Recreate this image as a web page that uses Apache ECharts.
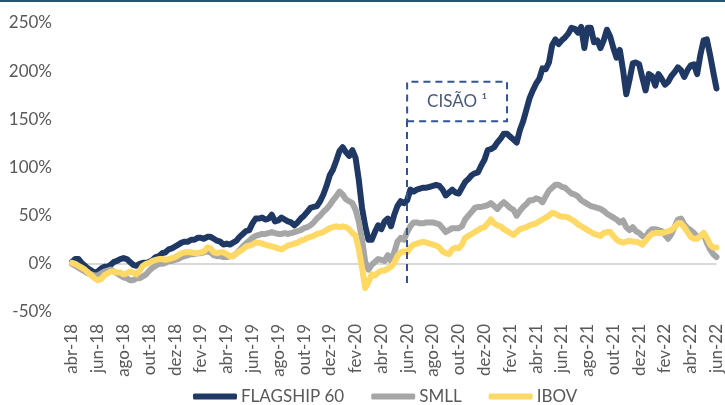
<!DOCTYPE html>
<html>
<head>
<meta charset="utf-8">
<script src="https://cdn.jsdelivr.net/npm/echarts@6/dist/echarts.min.js"></script>
<style>
  html, body { margin: 0; padding: 0; background: #ffffff; }
  #chart { width: 725px; height: 405px; }
</style>
</head>
<body>
<div id="chart"></div>
<script>
// Monthly labels, abr-18 .. jun-22 (each month split into 4 sub-periods)
const months = [
  'abr-18','mai-18','jun-18','jul-18','ago-18','set-18','out-18','nov-18','dez-18',
  'jan-19','fev-19','mar-19','abr-19','mai-19','jun-19','jul-19','ago-19','set-19','out-19','nov-19','dez-19',
  'jan-20','fev-20','mar-20','abr-20','mai-20','jun-20','jul-20','ago-20','set-20','out-20','nov-20','dez-20',
  'jan-21','fev-21','mar-21','abr-21','mai-21','jun-21','jul-21','ago-21','set-21','out-21','nov-21','dez-21',
  'jan-22','fev-22','mar-22','abr-22','mai-22','jun-22'
];
const stepsPerMonth = 4;

// Cumulative return (%)
const flagship60 = [
  2, 5, 5, 1, -2, -5, -7, -9, -8, -5, -3, -3, -1, 2, 3, 5, 6, 5, 2, -1,
  -2, 0, 1, 1, 2, 4, 7, 8, 11, 12, 15, 16, 18, 20, 22, 23, 23, 25, 25, 27,
  27, 26, 28, 28, 26, 24, 23, 20, 21, 20, 22, 24, 28, 31, 34, 35, 42, 47, 47, 48,
  46, 47, 51, 44, 45, 48, 46, 44, 43, 40, 43, 47, 50, 54, 58, 59, 60, 65, 72, 81,
  92, 98, 107, 117, 121, 116, 112, 118, 110, 87, 58, 39, 25, 25, 33, 40, 36, 44, 47, 39,
  51, 60, 65, 63, 66, 77, 75, 77, 78, 79, 79, 80, 81, 82, 81, 77, 71, 74, 77, 74,
  73, 79, 85, 88, 92, 94, 95, 102, 108, 118, 119, 121, 126, 130, 135, 135, 132, 129, 126, 139,
  148, 160, 172, 180, 187, 192, 203, 202, 209, 227, 233, 228, 232, 235, 239, 245, 244, 240, 246, 224,
  245, 245, 230, 232, 224, 232, 243, 236, 224, 214, 222, 201, 176, 191, 208, 209, 207, 193, 180, 197,
  195, 185, 197, 192, 186, 189, 195, 199, 204, 201, 194, 201, 206, 207, 197, 217, 232, 233, 217, 199,
  182
];
const smll = [
  0, -2, -4, -6, -8, -10, -11, -12, -12, -10, -8, -7, -6, -8, -10, -12, -14, -15, -17, -17,
  -15, -15, -13, -11, -7, -4, -2, 0, 0, 1, 3, 3, 4, 5, 7, 8, 9, 10, 10, 11,
  11, 12, 13, 12, 9, 8, 8, 7, 7, 8, 8, 11, 14, 18, 21, 24, 27, 29, 30, 31,
  31, 32, 33, 32, 31, 31, 32, 31, 32, 33, 34, 35, 37, 38, 40, 43, 47, 50, 54, 57,
  61, 66, 70, 75, 72, 67, 65, 63, 56, 44, 25, 2, -6, -1, 2, 5, 4, 3, 9, 3,
  12, 23, 27, 25, 33, 39, 43, 43, 42, 42, 43, 43, 43, 42, 41, 37, 33, 35, 37, 37,
  37, 39, 46, 50, 54, 58, 59, 59, 60, 61, 63, 60, 57, 61, 64, 61, 58, 56, 50, 55,
  59, 62, 66, 66, 68, 67, 64, 70, 76, 79, 82, 82, 80, 79, 76, 73, 72, 70, 66, 64,
  62, 60, 59, 58, 57, 55, 52, 50, 48, 46, 43, 45, 38, 35, 38, 34, 32, 29, 27, 33,
  36, 36, 35, 34, 30, 26, 31, 38, 46, 47, 41, 37, 35, 32, 28, 29, 31, 22, 15, 10,
  7
];
const ibov = [
  1, 0, -2, -4, -6, -9, -12, -15, -17, -16, -12, -10, -8, -8, -9, -9, -11, -10, -8, -9,
  -11, -7, -2, 0, 1, 3, 4, 5, 5, 4, 5, 6, 7, 9, 11, 12, 12, 12, 11, 11,
  12, 13, 17, 16, 12, 11, 12, 12, 10, 8, 8, 11, 13, 15, 18, 19, 20, 22, 22, 21,
  20, 19, 18, 17, 16, 15, 17, 19, 20, 21, 22, 24, 25, 27, 28, 29, 31, 32, 33, 35,
  37, 38, 39, 38, 39, 38, 36, 32, 29, 15, -4, -25, -19, -11, -12, -9, -7, -7, -5, -3,
  1, 8, 12, 13, 12, 17, 20, 21, 22, 23, 22, 21, 20, 19, 17, 13, 11, 10, 15, 17,
  16, 20, 27, 29, 31, 33, 35, 37, 38, 42, 46, 42, 40, 39, 36, 34, 32, 30, 33, 36,
  37, 38, 40, 41, 42, 44, 46, 48, 50, 53, 52, 50, 49, 49, 48, 46, 44, 41, 39, 37,
  35, 33, 31, 30, 29, 32, 33, 33, 29, 25, 23, 22, 23, 24, 23, 23, 22, 20, 24, 28,
  31, 32, 32, 32, 33, 34, 35, 38, 42, 42, 38, 33, 28, 26, 26, 29, 32, 27, 20, 17,
  17
];

// Spin-off marker: start / end sub-period index and value range of the label box
const spinOffStart = 104;
const spinOffEnd = 135;
const spinOffBox = [148, 189];
const spinOffLineBottom = -20;

const categories = [];
for (let i = 0; i < flagship60.length; i++) {
  const m = Math.floor(i / stepsPerMonth);
  categories.push(months[m] + ' ' + (i % stepsPerMonth + 1));
}

const FONT = 'Lato, "Open Sans", sans-serif';
const TEXT = '#595959';
const DASH = '#2f5597';

const chart = echarts.init(document.getElementById('chart'), null, { renderer: 'canvas' });

function lineSeries(name, data, color) {
  return {
    name, type: 'line', data,
    symbol: 'none', smooth: false,
    lineStyle: { color, width: 6, cap: 'round', join: 'round' },
    itemStyle: { color },
    emphasis: { disabled: true },
    animation: false
  };
}

chart.setOption({
  animation: false,
  backgroundColor: '#ffffff',
  textStyle: { fontFamily: FONT },
  grid: { left: 72, right: 8, top: 23, bottom: 93, containLabel: false },
  graphic: [{
    type: 'rect', left: 0, top: 0,
    shape: { width: 725, height: 2 },
    style: { fill: '#1d5b70' }, silent: true
  }],
  legend: {
    left: 188, top: 383,
    data: ['FLAGSHIP 60', 'SMLL', 'IBOV'],
    icon: 'roundRect',
    itemWidth: 44, itemHeight: 6, itemGap: 27,
    textStyle: { color: TEXT, fontSize: 17, fontFamily: FONT, padding: [0, 0, 0, -1] }
  },
  xAxis: {
    type: 'category', data: categories, boundaryGap: false,
    axisLine: { show: false }, axisTick: { show: false },
    splitLine: { show: false },
    axisLabel: {
      interval: stepsPerMonth * 2 - 1, rotate: 90, margin: 12,
      color: TEXT, fontSize: 17, fontFamily: FONT,
      formatter: v => v.split(' ')[0]
    }
  },
  yAxis: {
    type: 'value', min: -50, max: 250, interval: 50,
    axisLine: { show: false }, axisTick: { show: false },
    axisLabel: { formatter: '{value}%', color: TEXT, fontSize: 17, fontFamily: FONT, margin: 20 },
    splitLine: {
      show: true,
      lineStyle: { width: 2, color: ['rgba(0,0,0,0)', '#d9d9d9', 'rgba(0,0,0,0)', 'rgba(0,0,0,0)', 'rgba(0,0,0,0)', 'rgba(0,0,0,0)', 'rgba(0,0,0,0)'] }
    }
  },
  series: [
    lineSeries('FLAGSHIP 60', flagship60, '#1f3864'),
    lineSeries('SMLL', smll, '#a6a6a6'),
    lineSeries('IBOV', ibov, '#ffd966'),
    {
      name: 'spin-off', type: 'line', data: [], z: 5, silent: true,
      markArea: {
        silent: true,
        itemStyle: { color: 'rgba(0,0,0,0)', borderColor: DASH, borderWidth: 2, borderType: [7, 5] },
        label: {
          show: true, position: 'inside', color: '#4a5878', fontSize: 17, fontFamily: FONT,
          formatter: 'CISÃO ¹'
        },
        data: [[{ xAxis: spinOffStart, yAxis: spinOffBox[0] }, { xAxis: spinOffEnd, yAxis: spinOffBox[1] }]]
      },
      markLine: {
        silent: true, symbol: 'none',
        lineStyle: { color: DASH, width: 2, type: [7, 5] },
        label: { show: false },
        data: [[{ coord: [spinOffStart, spinOffLineBottom] }, { coord: [spinOffStart, spinOffBox[0]] }]]
      }
    }
  ]
});
</script>
</body>
</html>
